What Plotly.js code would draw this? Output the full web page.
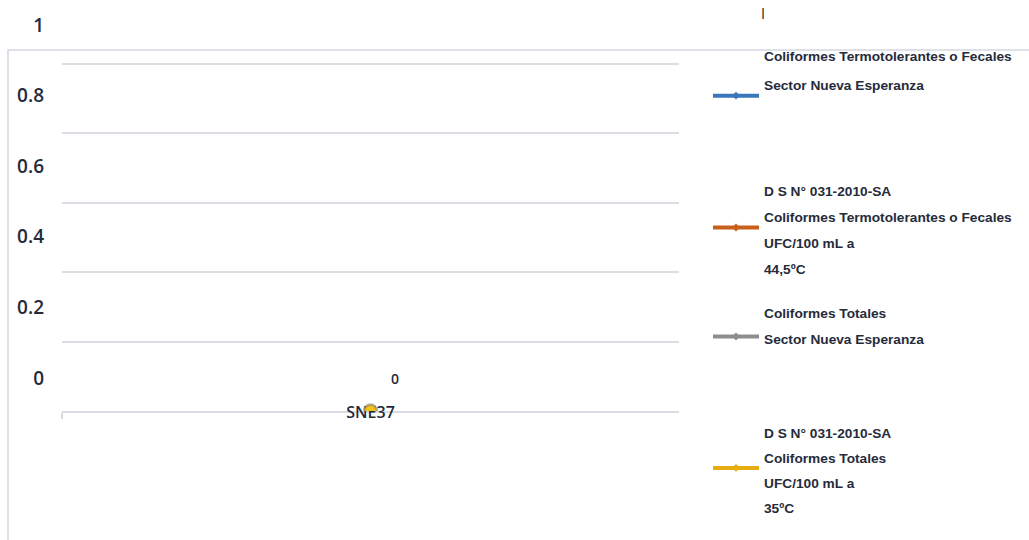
<!DOCTYPE html>
<html>
<head>
<meta charset="utf-8">
<script src="https://cdn.plot.ly/plotly-3.0.1.min.js"></script>
<style>html,body{margin:0;padding:0;background:#fff;}#chart{width:1029px;height:540px;}</style>
</head>
<body>
<div id="chart"></div>
<script>
// ---- data ----
const categories = ['SNE37'];
const fecalesNuevaEsperanza = [0];
const limiteFecales = [0];
const totalesNuevaEsperanza = [0];
const limiteTotales = [0];
const dataLabels = ['0'];
const yTickVals = [0, 0.2, 0.4, 0.6, 0.8, 1];
const yTickText = ['0', '0.2', '0.4', '0.6', '0.8', '1'];
const seriesNameLines = [
  ['Coliformes Termotolerantes o Fecales', 'Sector Nueva Esperanza', ' ', ' '],
  ['D S N° 031-2010-SA', 'Coliformes Termotolerantes o Fecales', 'UFC/100 mL a', '44,5ºC'],
  ['Coliformes Totales', 'Sector Nueva Esperanza'],
  ['D S N° 031-2010-SA', 'Coliformes Totales', 'UFC/100 mL a', '35ºC']
];
const seriesColors = ['#3a76ba', '#c8601c', '#8e8e8e', '#e6ad12'];

// ---- layout helpers ----
const W = 1029, H = 540;
const px = v => v / W;
const py = v => 1 - v / H;
const textColor = '#262b3a';
const gridColor = '#dadde4';

const seriesValues = [fecalesNuevaEsperanza, limiteFecales, totalesNuevaEsperanza, limiteTotales];
const legendIds = ['legend', 'legend2', 'legend3', 'legend4'];
function styleLine(s) {
  return '<span style="font-size:13.7px">' + s + '</span>';
}
const seriesNames = seriesNameLines.map(lines => lines.map(styleLine).join('<br>'));

const traces = seriesValues.map((vals, i) => ({
  type: 'scatter',
  mode: 'lines+markers',
  x: categories,
  y: vals,
  name: seriesNames[i],
  legend: legendIds[i],
  line: {color: seriesColors[i], width: 4},
  marker: {color: seriesColors[i], size: 6, symbol: 'diamond'},
  hoverinfo: 'skip'
}));

// highlighted gold point (last series) as it appears on the plot
traces.push({
  type: 'scatter', mode: 'markers',
  x: categories, y: limiteTotales,
  showlegend: false, hoverinfo: 'skip',
  marker: {color: '#f2c318', size: 13, line: {color: 'rgba(110,110,110,0.5)', width: 2.5}}
});

// carrier trace for the offset tick-label axis
traces.push({
  type: 'scatter', mode: 'markers',
  x: categories, y: fecalesNuevaEsperanza,
  xaxis: 'x', yaxis: 'y2',
  showlegend: false, hoverinfo: 'skip',
  marker: {opacity: 0}
});

function mkLegend(xPix, topPix, valign, baseSize) {
  return {
    x: px(xPix), y: py(topPix), xanchor: 'left', yanchor: 'top',
    bgcolor: 'rgba(0,0,0,0)', borderwidth: 0,
    font: {family: 'Liberation Sans', size: baseSize, color: textColor, weight: 'bold'},
    valign: valign, itemwidth: 46,
    itemclick: false, itemdoubleclick: false
  };
}

const layout = {
  width: W, height: H,
  margin: {l: 0, r: 0, t: 0, b: 0, autoexpand: false},
  paper_bgcolor: '#ffffff',
  plot_bgcolor: 'rgba(0,0,0,0)',
  xaxis: {
    type: 'category',
    domain: [px(62), px(679)],
    range: [-0.5, 0.5],
    showgrid: false, zeroline: false,
    showline: true, linecolor: gridColor, linewidth: 2,
    ticks: 'outside', ticklen: 6, tickcolor: gridColor, tickwidth: 2,
    tickson: 'boundaries',
    tickfont: {family: 'Open Sans', size: 16, color: textColor, weight: 600},
    ticklabelstandoff: -14,
    layer: 'below traces',
    fixedrange: true
  },
  yaxis: {
    domain: [py(411), py(63)],
    range: [0, 1.003],
    tickvals: yTickVals,
    showticklabels: false,
    showgrid: true, gridcolor: gridColor, gridwidth: 2,
    zeroline: false, showline: false, ticks: '',
    fixedrange: true
  },
  yaxis2: {
    domain: [py(378), py(25)],
    range: [0, 1],
    anchor: 'free',
    position: px(44),
    tickvals: yTickVals,
    ticktext: yTickText,
    tickfont: {family: 'Open Sans', size: 19, color: textColor, weight: 600},
    showgrid: false, zeroline: false, showline: false, ticks: '',
    fixedrange: true
  },
  legend: mkLegend(708, 32, 'middle', 22),
  legend2: mkLegend(708, 169, 'middle', 20),
  legend3: mkLegend(708, 291, 'bottom', 20),
  legend4: mkLegend(708, 411.5, 'middle', 19.2),
  annotations: [
    {
      xref: 'x', yref: 'y', x: categories[0], y: limiteTotales[0],
      text: dataLabels[0], showarrow: false,
      xshift: 24, yshift: 33,
      font: {family: 'Open Sans', size: 14, color: textColor, weight: 600}
    },
    {
      xref: 'paper', yref: 'paper', x: px(763), y: py(11),
      xanchor: 'center', yanchor: 'middle',
      text: '|', showarrow: false,
      font: {family: 'Open Sans', size: 11, color: '#222222', weight: 700}
    }
  ],
  shapes: [
    {
      type: 'rect', xref: 'paper', yref: 'paper', layer: 'below',
      x0: px(8), x1: 1.05, y0: -0.05, y1: py(50),
      line: {color: '#d3d7df', width: 1.5}, fillcolor: 'rgba(0,0,0,0)'
    }
  ],
  showlegend: true
};

Plotly.newPlot('chart', traces, layout, {staticPlot: true, displayModeBar: false});
</script>
</body>
</html>
